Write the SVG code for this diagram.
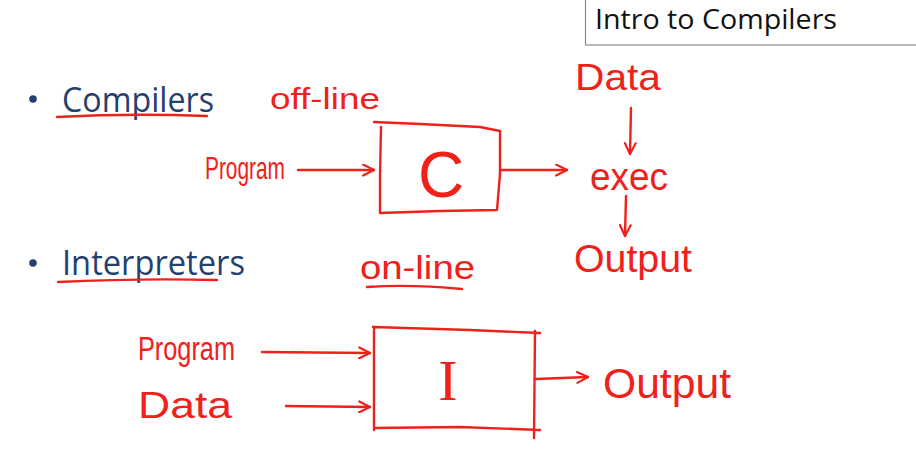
<svg xmlns="http://www.w3.org/2000/svg" width="916" height="457" viewBox="0 0 916 457">
<defs>
<marker id="ah" viewBox="0 0 12 12" refX="11" refY="6" markerWidth="13" markerHeight="13" markerUnits="userSpaceOnUse" orient="auto">
<path d="M1,1 L11,6 L1,11" fill="none" stroke="#f0201a" stroke-width="2" stroke-linecap="round" stroke-linejoin="round"/>
</marker>
</defs>
<style>
.ink{fill:none;stroke:#f0201a;stroke-width:2.4;stroke-linecap:round;stroke-linejoin:round}
.hw{fill:#f0201a;font-family:"Liberation Sans","DejaVu Sans",sans-serif}
.bl{fill:#24406e;font-family:"Open Sans","Liberation Sans",sans-serif;font-size:35px}
.conn{fill:none;stroke:#f0201a;stroke-width:2.4;stroke-linecap:round;marker-end:url(#ah)}
</style>
<rect width="916" height="457" fill="#ffffff"/>
<g id="title">
<rect x="585.5" y="-2" width="340" height="47" fill="#ffffff" stroke="#8a8a8a" stroke-width="1.2"/>
<text x="595" y="29" font-family="Open Sans,Liberation Sans,sans-serif" font-size="27" fill="#111" textLength="242" lengthAdjust="spacingAndGlyphs">Intro to Compilers</text>
</g>
<g id="bullet-compilers">
<circle cx="33" cy="99" r="3.8" fill="#24406e"/>
<text class="bl" x="62" y="112" textLength="152" lengthAdjust="spacingAndGlyphs">Compilers</text>
<path class="ink" d="M57,117 Q130,113 207,116"/>
</g>
<g id="bullet-interpreters">
<circle cx="33" cy="263" r="3.8" fill="#24406e"/>
<text class="bl" x="62" y="275" textLength="183" lengthAdjust="spacingAndGlyphs">Interpreters</text>
<path class="ink" d="M58,282 Q140,278 217,280"/>
</g>
<g id="label-offline">
<text class="hw" x="270" y="109" font-size="30" textLength="110" lengthAdjust="spacingAndGlyphs">off-line</text>
</g>
<g id="label-online">
<text class="hw" x="360" y="279" font-size="33" textLength="115" lengthAdjust="spacingAndGlyphs">on-line</text>
<path class="ink" d="M367,287 Q410,284 462,289"/>
</g>
<g id="compiler-program">
<text class="hw" x="205" y="179" font-size="32" textLength="80" lengthAdjust="spacingAndGlyphs">Program</text>
</g>
<g id="compiler-box">
<path class="ink" d="M374,122 L420,124 L480,127 L500,131 L500,174 L497,210 L440,211 L380,213 L380,176 L381,127"/>
<text class="hw" x="441" y="197" font-size="64" text-anchor="middle">C</text>
</g>
<g id="compiler-data">
<text class="hw" x="575" y="90" font-size="36" textLength="86" lengthAdjust="spacingAndGlyphs">Data</text>
</g>
<g id="compiler-exec">
<text class="hw" x="590" y="190" font-size="38" textLength="78" lengthAdjust="spacingAndGlyphs">exec</text>
</g>
<g id="compiler-output">
<text class="hw" x="574" y="272" font-size="38" textLength="118" lengthAdjust="spacingAndGlyphs">Output</text>
</g>
<g id="interp-program">
<text class="hw" x="138" y="360" font-size="34" textLength="97" lengthAdjust="spacingAndGlyphs">Program</text>
</g>
<g id="interp-data">
<text class="hw" x="138" y="418" font-size="36" textLength="94" lengthAdjust="spacingAndGlyphs">Data</text>
</g>
<g id="interp-box">
<path class="ink" d="M373,327 L470,330 L540,333 M374,327 L374,430 M535,331 L534,438 M374,428 L460,427 L540,430"/>
<text x="448" y="400" font-family="Liberation Serif,serif" font-size="58" fill="#f0201a" text-anchor="middle">I</text>
</g>
<g id="interp-output">
<text class="hw" x="603" y="398" font-size="42" textLength="128" lengthAdjust="spacingAndGlyphs">Output</text>
</g>
<g id="connectors">
<path class="conn" d="M298,170 L374,170"/>
<path class="conn" d="M501,170 L567,170"/>
<path class="conn" d="M631,108 L630,154"/>
<path class="conn" d="M626,196 L625,236"/>
<path class="conn" d="M262,352 L370,353"/>
<path class="conn" d="M286,406 L370,407"/>
<path class="conn" d="M536,379 L588,377"/>
</g>
</svg>
